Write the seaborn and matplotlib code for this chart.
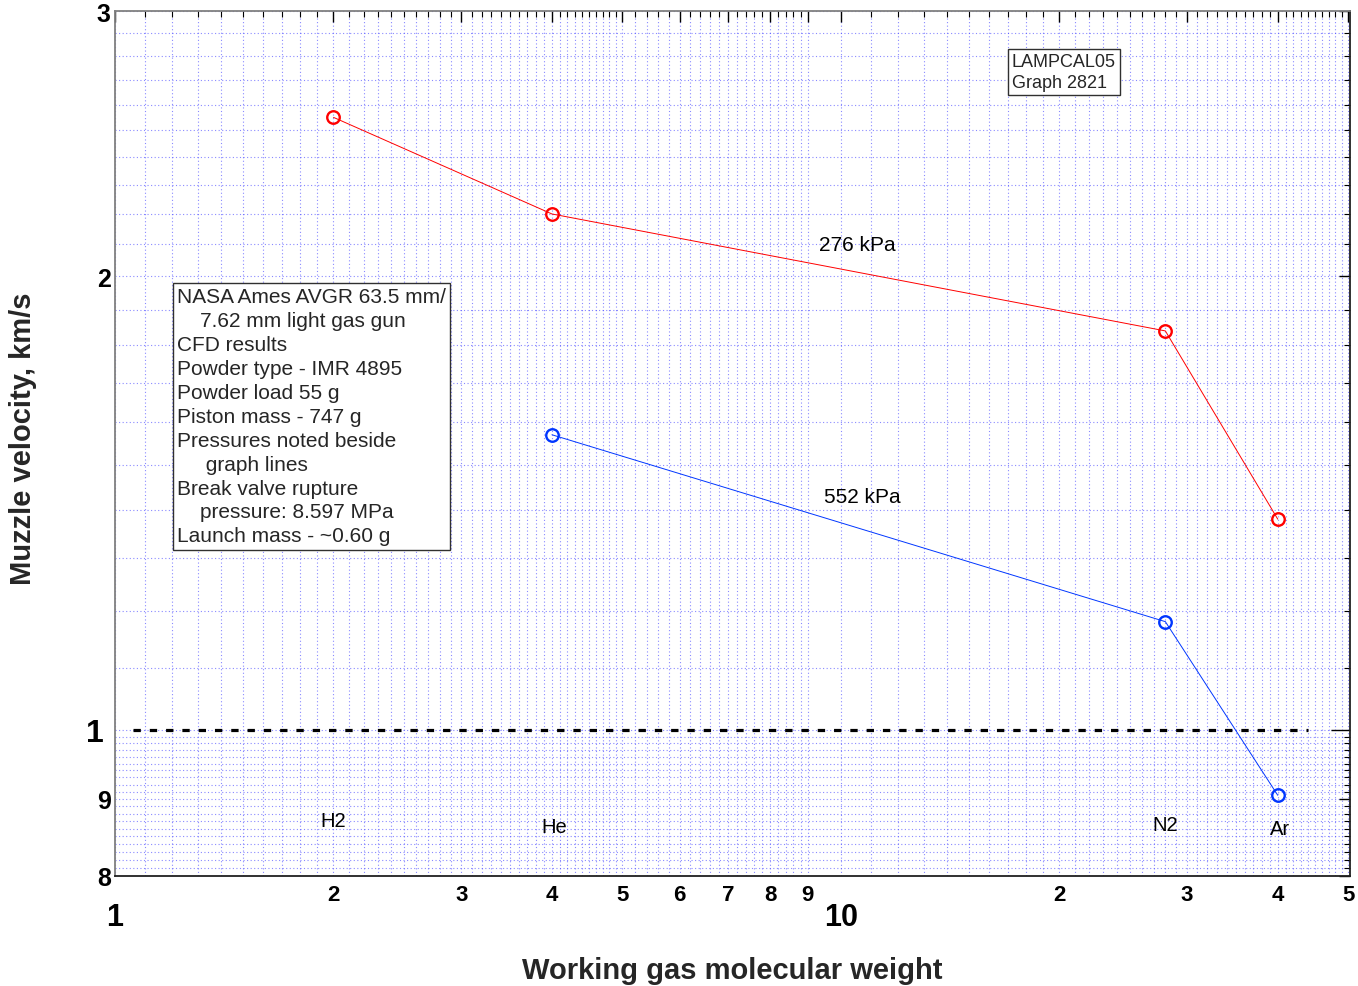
import numpy as np
import pandas as pd
import matplotlib
matplotlib.use("Agg")
import matplotlib.pyplot as plt
import seaborn as sns

# ---------------- data ----------------
gas_names = ["H2", "He", "N2", "Ar"]
mol_weight = [2.0, 4.0, 28.0, 40.0]
gas_label_x = [2.0, 4.03, 28.0, 40.3]
gas_label_y = [0.871, 0.863, 0.866, 0.860]

mw_276 = [2.0, 4.0, 28.0, 40.0]
vel_276 = [2.55, 2.20, 1.84, 1.38]

mw_552 = [4.0, 28.0, 40.0]
vel_552 = [1.57, 1.18, 0.905]

ref_x = [1.06, 44.0]
ref_y = [1.0, 1.0]

pressure_labels = ["276 kPa", "552 kPa"]
pressure_x = [10.55, 10.69]
pressure_y = [2.10, 1.429]

xtick_vals = [1, 2, 3, 4, 5, 6, 7, 8, 9, 10, 20, 30, 40, 50]
xtick_text = ["1", "2", "3", "4", "5", "6", "7", "8", "9", "10", "2", "3", "4", "5"]
ytick_vals = [0.8, 0.9, 1, 2, 3]
ytick_text = ["8", "9", "1", "2", "3"]

note_text = ("NASA Ames AVGR 63.5 mm/\n"
             "    7.62 mm light gas gun\n"
             "CFD results\n"
             "Powder type - IMR 4895\n"
             "Powder load 55 g\n"
             "Piston mass - 747 g\n"
             "Pressures noted beside\n"
             "     graph lines\n"
             "Break valve rupture\n"
             "    pressure: 8.597 MPa\n"
             "Launch mass - ~0.60 g")
id_text = "LAMPCAL05\nGraph 2821"

df276 = pd.DataFrame({"mw": mw_276, "v": vel_276})
df552 = pd.DataFrame({"mw": mw_552, "v": vel_552})

# ---------------- figure ----------------
sns.set_style("white")
plt.rcParams["font.family"] = ["Liberation Sans", "DejaVu Sans"]

fig = plt.figure(figsize=(13.58, 9.87), dpi=100)
ax = fig.add_axes([115 / 1358, 1 - 877 / 987, 1235 / 1358, 865 / 987])
ax.set_xscale("log")
ax.set_yscale("log")

red = "#ff0000"
blue = "#0036ff"
sns.lineplot(data=df276, x="mw", y="v", ax=ax, color=red, lw=0.7, estimator=None,
             marker="o", markersize=9, markerfacecolor="none",
             markeredgecolor=red, markeredgewidth=1.7, zorder=5)
sns.lineplot(data=df552, x="mw", y="v", ax=ax, color=blue, lw=0.7, estimator=None,
             marker="o", markersize=9, markerfacecolor="none",
             markeredgecolor=blue, markeredgewidth=1.7, zorder=5)

ax.plot(ref_x, ref_y, color="black", lw=2.3, linestyle=(0, (2.3, 2.8)), zorder=4)

ax.set_xlim(1, 50.3)
ax.set_ylim(0.8, 3)

# ticks
ax.set_xticks(xtick_vals)
ax.set_xticklabels(xtick_text)
ax.set_yticks(ytick_vals)
ax.set_yticklabels(ytick_text)
xminor = np.concatenate([np.arange(1.1, 5.0, 0.1), np.arange(5.2, 9.0, 0.2),
                         np.arange(11, 50, 1.0)])
yminor = np.concatenate([np.arange(0.81, 1.0, 0.01), np.arange(1.1, 2.0, 0.1),
                         np.arange(2.1, 3.0, 0.1)])
ax.set_xticks(xminor, minor=True)
ax.set_yticks(yminor, minor=True)
ax.xaxis.set_minor_formatter(matplotlib.ticker.NullFormatter())
ax.yaxis.set_minor_formatter(matplotlib.ticker.NullFormatter())

ax.tick_params(which="both", direction="in", top=True, right=True, colors="black")
ax.tick_params(which="major", length=8, width=1.0)
ax.tick_params(which="minor", length=4, width=0.8)
ax.tick_params(axis="x", which="major", pad=6, labelsize=16)
ax.tick_params(axis="y", which="major", pad=3, labelsize=18)

for lab in ax.get_xticklabels() + ax.get_yticklabels():
    lab.set_fontweight("bold")

for tick, loc in zip(ax.xaxis.get_major_ticks(), xtick_vals):
    if loc in (1, 10):
        tick.label1.set_fontsize(22)
        tick.set_pad(19)
for tick, loc in zip(ax.yaxis.get_major_ticks(), ytick_vals):
    if loc == 1:
        tick.label1.set_fontsize(23)
        tick.set_pad(8)
        tick.tick1line.set_markersize(14)
        tick.tick2line.set_markersize(14)

ax.grid(which="both", color="#3c3cff", linestyle=(0, (1, 2.2)), linewidth=0.8, alpha=0.6)
ax.set_axisbelow(True)

for side in ["left", "top"]:
    ax.spines[side].set_color("#808080")
for side in ["right", "bottom"]:
    ax.spines[side].set_color("#202020")
for s in ax.spines.values():
    s.set_linewidth(1.3)

ax.set_xlabel("Working gas molecular weight", fontsize=21, fontweight="bold")
ax.set_ylabel("Muzzle velocity, km/s", fontsize=21, fontweight="bold")
ax.xaxis.set_label_coords(0.5, -0.093)
ax.yaxis.set_label_coords(-0.063, 0.507)

# annotations
for name, xv, yv in zip(gas_names, gas_label_x, gas_label_y):
    ax.text(xv, yv, name, fontsize=14.5, ha="center", va="center", color="black")
for lab, xv, yv in zip(pressure_labels, pressure_x, pressure_y):
    ax.text(xv, yv, lab, fontsize=15, ha="center", va="center", color="black")

ax.text(0.0502, 0.681, note_text, transform=ax.transAxes, fontsize=15,
        ha="left", va="top", linespacing=1.33,
        bbox=dict(boxstyle="square,pad=0.2", fc="white", ec="#303030", lw=1.0),
        zorder=6)
ax.text(0.7263, 0.952, id_text, transform=ax.transAxes, fontsize=13,
        ha="left", va="top", linespacing=1.35,
        bbox=dict(boxstyle="square,pad=0.2", fc="white", ec="#303030", lw=1.0),
        zorder=6)

fig.savefig("out.png", dpi=100)
